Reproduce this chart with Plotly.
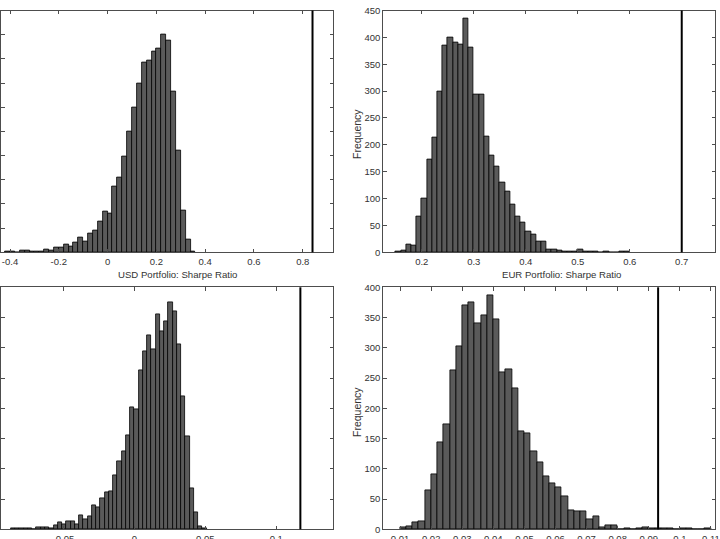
import numpy as np
import plotly.graph_objects as go

# ---------------- data ----------------
usd_sr_bin_start = -0.42
usd_sr_bin_width = 0.02
usd_sr_counts = [1, 1, 0, 3, 4, 2, 2, 2, 5, 3,
                 9, 10, 17, 12, 20, 30, 23, 38, 46, 63,
                 85, 80, 137, 155, 199, 249, 300, 350, 393, 396,
                 416, 421, 451, 438, 333, 210, 86, 27, 2]
usd_sr_actual = 0.84

eur_sr_bin_start = 0.15
eur_sr_bin_width = 0.01
eur_sr_counts = [2, 3, 14, 12, 67, 100, 173, 214, 300, 384,
                 400, 390, 386, 435, 382, 294, 294, 216, 181, 160,
                 130, 113, 89, 67, 55, 38, 33, 21, 21, 5,
                 6, 4, 2, 1, 1, 5, 2, 2, 1, 0,
                 1, 0, 0, 1, 2]
eur_sr_actual = 0.70

usd_b_bin_start = -0.087
usd_b_bin_width = 0.003
usd_b_counts = [1, 1, 2, 2, 2, 0, 3, 3, 3, 2,
                7, 11, 8, 13, 14, 8, 23, 17, 21, 40,
                36, 51, 61, 62, 90, 113, 129, 155, 202,
                199, 263, 294, 320, 297, 355, 328, 344, 375, 361,
                305, 220, 153, 68, 28, 5, 1]
usd_b_actual = 0.117

eur_b_bin_start = 0.010
eur_b_bin_width = 0.002
eur_b_counts = [3, 5, 12, 13, 65, 91, 143, 174, 262, 302,
                370, 375, 340, 353, 386, 347, 259, 264, 233, 162,
                159, 129, 110, 88, 76, 69, 54, 31, 30, 29,
                16, 22, 3, 6, 6, 0, 2, 0, 2, 4,
                1, 1, 1, 1, 0, 1, 1, 0, 0, 1]
eur_b_actual = 0.093

x_labels = ["USD Portfolio: Sharpe Ratio", "EUR Portfolio: Sharpe Ratio"]
y_label = "Frequency"

tl_xticks = [-0.4, -0.2, 0, 0.2, 0.4, 0.6, 0.8]
tl_xtext = ["-0.4", "-0.2", "0", "0.2", "0.4", "0.6", "0.8"]
tr_xticks = [0.2, 0.3, 0.4, 0.5, 0.6, 0.7]
tr_xtext = ["0.2", "0.3", "0.4", "0.5", "0.6", "0.7"]
bl_xticks = [-0.05, 0, 0.05, 0.1]
bl_xtext = ["-0.05", "0", "0.05", "0.1"]
br_xticks = [0.01, 0.02, 0.03, 0.04, 0.05, 0.06, 0.07, 0.08, 0.09, 0.10, 0.11]
br_xtext = ["0.01", "0.02", "0.03", "0.04", "0.05", "0.06", "0.07", "0.08", "0.09", "0.1", "0.11"]

# ---------------- figure ----------------
W, H = 720, 539
BAR_FILL = "#5a5a5a"
AX_COLOR = "#4d4d4d"
TXT_COLOR = "#333333"
FONT = "Liberation Sans, Arial, sans-serif"

fig = go.Figure()

panels = [
    (usd_sr_bin_start, usd_sr_bin_width, usd_sr_counts, usd_sr_actual, "x", "y"),
    (eur_sr_bin_start, eur_sr_bin_width, eur_sr_counts, eur_sr_actual, "x2", "y2"),
    (usd_b_bin_start, usd_b_bin_width, usd_b_counts, usd_b_actual, "x3", "y3"),
    (eur_b_bin_start, eur_b_bin_width, eur_b_counts, eur_b_actual, "x4", "y4"),
]

for start, width, counts, actual, xa, ya in panels:
    n = len(counts)
    centers = start + width * (np.arange(n) + 0.5)
    fig.add_trace(go.Bar(
        x=centers, y=counts, width=width,
        marker=dict(color=BAR_FILL, line=dict(color="black", width=0.8)),
        xaxis=xa, yaxis=ya, showlegend=False,
    ))
    fig.add_shape(type="line", xref=xa, yref=f"{ya} domain",
                  x0=actual, x1=actual, y0=0, y1=1,
                  line=dict(color="black", width=2))

xl = [1 / W, 333 / W]
xr = [383.3 / W, 715 / W]
yt = [1 - 252.3 / H, 1 - 10.5 / H]
yb = [1 - 529.3 / H, 1 - 287.3 / H]

common_ax = dict(showline=True, linecolor=AX_COLOR, linewidth=1, mirror="ticks",
                 ticks="inside", ticklen=3.5, tickwidth=1, tickcolor=AX_COLOR,
                 showgrid=False, zeroline=False, automargin=False,
                 tickfont=dict(family=FONT, size=9.5, color=TXT_COLOR))

def xax(domain, rng, tv, tt, anchor):
    d = dict(common_ax)
    d.update(domain=domain, range=rng, tickmode="array", tickvals=tv, ticktext=tt, anchor=anchor)
    return d

def yax(domain, rng, anchor):
    d = dict(common_ax)
    d.update(domain=domain, range=rng, tickmode="linear", tick0=0, dtick=50, anchor=anchor)
    return d

fig.update_layout(
    width=W, height=H,
    margin=dict(l=0, r=0, t=0, b=0, pad=0),
    paper_bgcolor="white", plot_bgcolor="white",
    bargap=0,
    font=dict(family=FONT, color=TXT_COLOR),
    xaxis=xax(xl, [-0.437, 0.924], tl_xticks, tl_xtext, "y"),
    yaxis=yax(yt, [0, 500], "x"),
    xaxis2=xax(xr, [0.126, 0.764], tr_xticks, tr_xtext, "y2"),
    yaxis2=yax(yt, [0, 450], "x2"),
    xaxis3=xax(xl, [-0.094, 0.140], bl_xticks, bl_xtext, "y3"),
    yaxis3=yax(yb, [0, 400], "x3"),
    xaxis4=xax(xr, [0.0046, 0.1113], br_xticks, br_xtext, "y4"),
    yaxis4=yax(yb, [0, 400], "x4"),
)

ann = []
for txt, cx in zip(x_labels, [177, 561]):
    ann.append(dict(text=txt, x=cx / W, y=1 - 274 / H, xref="paper", yref="paper",
                    xanchor="center", yanchor="middle", showarrow=False,
                    font=dict(family=FONT, size=9.6, color=TXT_COLOR)))
for cy in [134, 412]:
    ann.append(dict(text=y_label, x=357 / W, y=1 - cy / H, xref="paper", yref="paper",
                    xanchor="center", yanchor="middle", showarrow=False, textangle=-90,
                    font=dict(family=FONT, size=10.5, color=TXT_COLOR)))
fig.update_layout(annotations=ann)

fig.write_html("out.html")
